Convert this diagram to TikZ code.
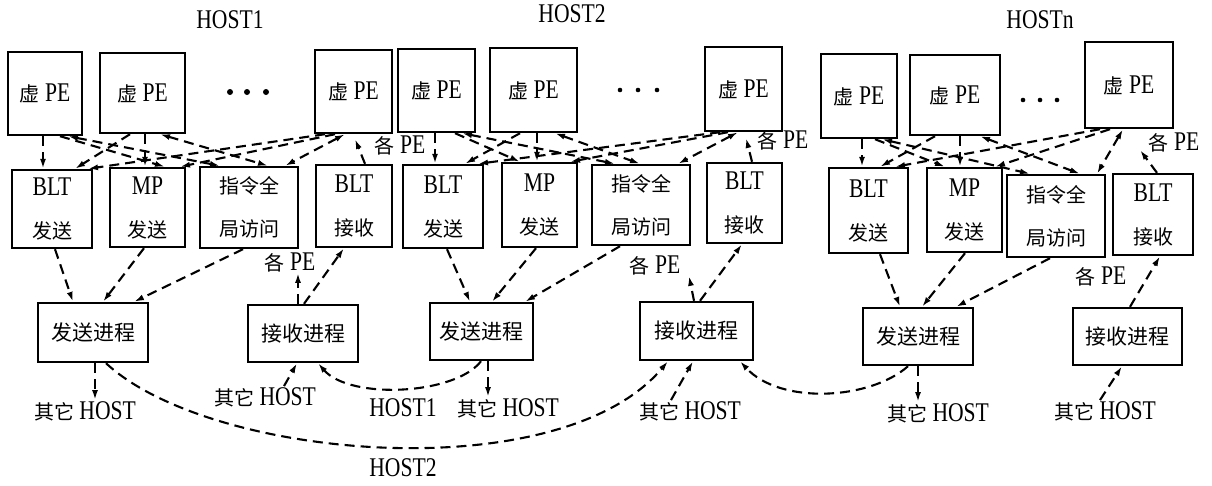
\documentclass[tikz,border=0pt]{standalone}
\usepackage{fontspec}
\setmainfont[FakeStretch=0.8]{Liberation Serif}
\newfontfamily\cjk{Noto Sans CJK SC}
\usetikzlibrary{arrows.meta}
\newcommand\zh[1]{{\cjk\fontsize{20}{24}\selectfont #1}}
\newcommand\zhb[1]{{\cjk\fontsize{21}{24}\selectfont #1}}
\newcommand\lnk[5]{\draw[#1] ([xshift=#3pt]#2) -- ([xshift=#5pt]#4);}
\begin{document}
\begin{tikzpicture}[x=1pt,y=-1pt,
  box/.style={draw,line width=2.4pt,inner sep=0pt,align=center,font=\fontsize{27}{43}\selectfont},
  lbl/.style={inner sep=1pt,font=\fontsize{27}{28}\selectfont},
  con/.style={line width=2.1pt,dash pattern=on 10pt off 6pt,-{Latex[length=10pt,width=6pt]}},
  bi/.style={line width=2.1pt,dash pattern=on 10pt off 6pt,{Latex[length=10pt,width=6pt]}-{Latex[length=10pt,width=6pt]}}]
\useasboundingbox (0,0) rectangle (1212,485);

% top labels
\node[lbl] (h1) at (230,20) {HOST1};
\node[lbl] (h2) at (572,14) {HOST2};
\node[lbl] (hn) at (1040,20) {HOSTn};

% HOST1
\node[box,minimum width=74pt,minimum height=83pt] (pe1) at (45,93.5) {\zh{虚} PE};
\node[box,minimum width=85pt,minimum height=80pt] (pe2) at (142.5,93) {\zh{虚} PE};
\node[box,minimum width=77pt,minimum height=83pt] (pe3) at (353.5,91.5) {\zh{虚} PE};
\node[box,minimum width=80pt,minimum height=78pt] (blts1) at (52,209) {BLT\\\zh{发送}};
\node[box,minimum width=75pt,minimum height=79pt] (mps1) at (147.5,207.5) {MP\\\zh{发送}};
\node[box,minimum width=98pt,minimum height=81pt] (ins1) at (249,207.5) {\zh{指令全}\\\zh{局访问}};
\node[box,minimum width=76pt,minimum height=82pt] (bltr1) at (354,206) {BLT\\\zh{接收}};

% HOST2
\node[box,minimum width=77pt,minimum height=83pt] (pe4) at (436.5,90.5) {\zh{虚} PE};
\node[box,minimum width=87pt,minimum height=84pt] (pe5) at (533.5,90) {\zh{虚} PE};
\node[box,minimum width=77pt,minimum height=84pt] (pe6) at (743.5,89) {\zh{虚} PE};
\node[box,minimum width=80pt,minimum height=83pt] (blts2) at (443,206.5) {BLT\\\zh{发送}};
\node[box,minimum width=75pt,minimum height=84pt] (mps2) at (539.5,205) {MP\\\zh{发送}};
\node[box,minimum width=98pt,minimum height=80pt] (ins2) at (641,205) {\zh{指令全}\\\zh{局访问}};
\node[box,minimum width=75pt,minimum height=80pt] (bltr2) at (744.5,203) {BLT\\\zh{接收}};

% HOSTn
\node[box,minimum width=76pt,minimum height=84pt] (pe7) at (859,96) {\zh{虚} PE};
\node[box,minimum width=90pt,minimum height=80pt] (pe8) at (955,95) {\zh{虚} PE};
\node[box,minimum width=88pt,minimum height=86pt] (pe9) at (1129,85) {\zh{虚} PE};
\node[box,minimum width=79pt,minimum height=85pt] (blts3) at (868.5,210.5) {BLT\\\zh{发送}};
\node[box,minimum width=75pt,minimum height=84pt] (mps3) at (964.5,210) {MP\\\zh{发送}};
\node[box,minimum width=98pt,minimum height=82pt] (ins3) at (1056,216) {\zh{指令全}\\\zh{局访问}};
\node[box,minimum width=80pt,minimum height=81pt] (bltr3) at (1153,214.5) {BLT\\\zh{接收}};

% dots
\foreach \x in {230,247,266} \fill (\x,92) circle (3pt);
\foreach \x in {620,638,657} \fill (\x,90) circle (2.3pt);
\foreach \x in {1023,1040,1057} \fill (\x,100) circle (2.3pt);

% processes
\node[box,minimum width=110pt,minimum height=59pt] (send1) at (93,332.5) {\zhb{发送进程}};
\node[box,minimum width=110pt,minimum height=57pt] (recv1) at (303,333.5) {\zhb{接收进程}};
\node[box,minimum width=103pt,minimum height=57pt] (send2) at (481.5,331.5) {\zhb{发送进程}};
\node[box,minimum width=113pt,minimum height=58pt] (recv2) at (696.5,331) {\zhb{接收进程}};
\node[box,minimum width=110pt,minimum height=57pt] (send3) at (918,336.5) {\zhb{发送进程}};
\node[box,minimum width=109pt,minimum height=57pt] (recv3) at (1127.5,336.5) {\zhb{接收进程}};

% labels
\node[lbl] (g1) at (400,145) {\zh{各} PE};
\node[lbl] (g2) at (783,140) {\zh{各} PE};
\node[lbl] (g3) at (1174,142) {\zh{各} PE};
\node[lbl] (g4) at (290,262) {\zh{各} PE};
\node[lbl] (g5) at (655,265) {\zh{各} PE};
\node[lbl] (g6) at (1101,276) {\zh{各} PE};
\node[lbl] (o1) at (85,411) {\zh{其它} HOST};
\node[lbl] (o2) at (265,397) {\zh{其它} HOST};
\node[lbl] (o3) at (508,408) {\zh{其它} HOST};
\node[lbl] (o4) at (690,411) {\zh{其它} HOST};
\node[lbl] (o5) at (938,413) {\zh{其它} HOST};
\node[lbl] (o6) at (1105,411) {\zh{其它} HOST};
\node[lbl] (l1) at (403,408) {HOST1};
\node[lbl] (l2) at (403,468) {HOST2};

\coordinate (e1) at (355,139);
\coordinate (e2) at (746,138);
\coordinate (e3) at (1140,150);

% HOST1 top links
\lnk{con}{pe1.south}{-2}{blts1.north}{-9}
\lnk{con}{pe1.south}{15}{mps1.north}{17.5}
\lnk{bi}{pe1.south}{23}{ins1.north}{-29}
\lnk{con}{pe2.south}{-12.5}{blts1.north}{23}
\lnk{con}{pe2.south}{2.5}{mps1.north}{-2.5}
\lnk{bi}{pe2.south}{17.5}{ins1.north}{19}
\lnk{con}{pe3.south}{-28.5}{blts1.north}{36}
\lnk{con}{pe3.south}{-18.5}{mps1.north}{32.5}
\lnk{bi}{pe3.south}{-8.5}{ins1.north}{36}
\lnk{con}{bltr1.north}{11}{e1}{0}

% HOST2 top links
\lnk{con}{pe4.south}{-1.5}{blts2.north}{-8}
\lnk{con}{pe4.south}{18.5}{mps2.north}{-19.5}
\lnk{bi}{pe4.south}{25.5}{ins2.north}{-26}
\lnk{con}{pe5.south}{-13.5}{blts2.north}{22}
\lnk{con}{pe5.south}{3.5}{mps2.north}{-2.5}
\lnk{bi}{pe5.south}{21.5}{ins2.north}{-1}
\lnk{con}{pe6.south}{-23.5}{blts2.north}{35}
\lnk{con}{pe6.south}{-15.5}{mps2.north}{30.5}
\lnk{bi}{pe6.south}{-5.5}{ins2.north}{37}
\lnk{con}{bltr2.north}{7.5}{e2}{0}

% HOSTn top links
\lnk{con}{pe7.south}{3}{blts3.north}{-6.5}
\lnk{con}{pe7.south}{16}{mps3.north}{-19.5}
\lnk{bi}{pe7.south}{23}{ins3.north}{-26}
\lnk{con}{pe8.south}{-20}{blts3.north}{11.5}
\lnk{con}{pe8.south}{5}{mps3.north}{-4.5}
\lnk{bi}{pe8.south}{25}{ins3.north}{24}
\lnk{con}{pe9.south}{-29}{blts3.north}{26.5}
\lnk{con}{pe9.south}{-19}{mps3.north}{30.5}
\lnk{bi}{pe9.south}{-6}{ins3.north}{41}
\lnk{con}{bltr3.north}{4}{e3}{0}

% row 2 -> row 3
\lnk{con}{blts1.south}{3}{send1.north}{-20}
\lnk{con}{mps1.south}{-3.5}{send1.north}{10}
\lnk{con}{ins1.south}{-6}{send1.north}{41}
\lnk{con}{recv1.north}{1}{bltr1.south}{-10}
\lnk{con}{recv1.north}{-5}{g4.south}{8}
\lnk{con}{blts2.south}{4}{send2.north}{-11.5}
\lnk{con}{mps2.south}{-3.5}{send2.north}{10.5}
\lnk{con}{ins2.south}{-21}{send2.north}{43.5}
\lnk{con}{recv2.north}{3.5}{bltr2.south}{-2.5}
\lnk{con}{recv2.north}{-2.5}{g5.south}{34}
\lnk{con}{blts3.south}{11.5}{send3.north}{-18}
\lnk{con}{mps3.south}{0.5}{send3.north}{4}
\lnk{con}{ins3.south}{-6}{send3.north}{38}
\lnk{con}{recv3.north}{2.5}{bltr3.south}{7}

% bottom links
\lnk{con}{send1.south}{2}{o1.north}{10}
\lnk{con}{o2.north}{19}{recv1.south}{-6}
\lnk{con}{send2.south}{6.5}{o3.north}{-20}
\lnk{con}{o4.north}{-19}{recv2.south}{-3.5}
\lnk{con}{send3.south}{0}{o5.north}{-20}
\lnk{con}{o6.north}{-5}{recv3.south}{-5.5}

\draw[con] ([xshift=13pt]send1.south) .. controls (210,460) and (560,490) .. ([xshift=-28.5pt]recv2.south);
\draw[con] ([xshift=-0.5pt]send2.south) .. controls (455,395) and (350,400) .. ([xshift=15pt]recv1.south);
\draw[con] ([xshift=-10pt]send3.south) .. controls (870,400) and (780,405) .. ([xshift=43.5pt]recv2.south);
\end{tikzpicture}
\end{document}
